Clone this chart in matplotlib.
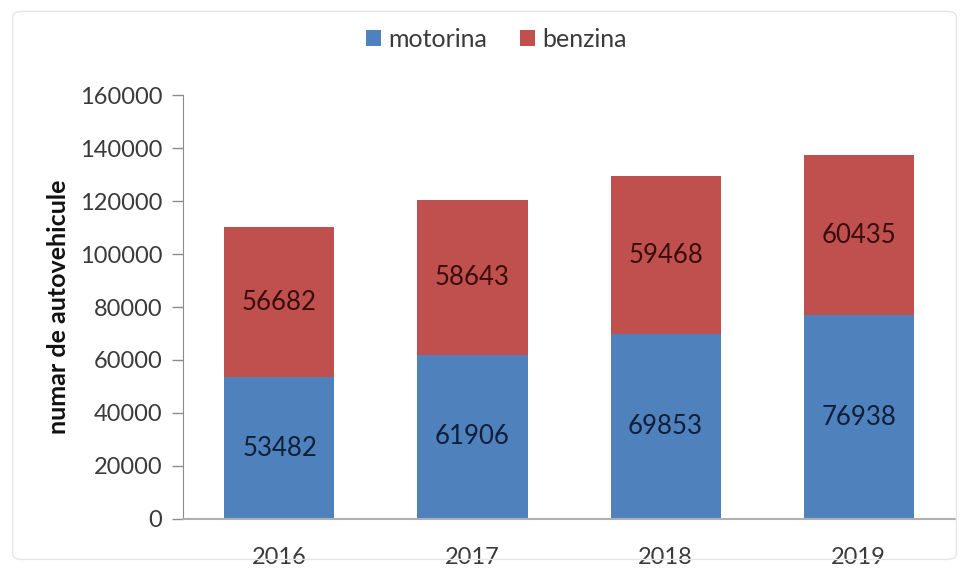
import numpy as np
import matplotlib.pyplot as plt
from matplotlib.patches import FancyBboxPatch

plt.rcParams['font.family'] = ['Lato', 'DejaVu Sans']

years = ['2016', '2017', '2018', '2019']
motorina = [53482, 61906, 69853, 76938]
benzina = [56682, 58643, 59468, 60435]

blue = '#4f81bd'
red = '#c0504d'
gray = '#8c8c8c'
txt = '#3a3a3a'

fig = plt.figure(figsize=(9.68, 5.68), dpi=100)
ax = fig.add_axes([0.189, 0.0863, 0.7977, 0.7464])

# faint chart frame
fig.patches.append(FancyBboxPatch((0.013, 0.015), 0.975, 0.965,
                                  boxstyle='round,pad=0,rounding_size=0.01',
                                  transform=fig.transFigure, fill=False,
                                  edgecolor='#e6e6e6', linewidth=1))

x = np.arange(len(years))
w = 0.57
b1 = ax.bar(x, motorina, w, color=blue, label='motorina')
b2 = ax.bar(x, benzina, w, bottom=motorina, color=red, label='benzina')

for i in range(len(years)):
    ax.text(x[i], motorina[i] / 2, str(motorina[i]), ha='center', va='center',
            fontsize=18.5, color='#0f1f3a')
    ax.text(x[i], motorina[i] + benzina[i] / 2, str(benzina[i]), ha='center',
            va='center', fontsize=18.5, color='#3a0d0d')

ax.set_xlim(-0.5, len(years) - 0.5)
ax.set_ylim(0, 160000)
ax.set_yticks(np.arange(0, 160001, 20000))
ax.set_xticks(x)
ax.set_xticklabels(years)
ax.tick_params(axis='x', length=0, pad=20, labelsize=17, colors=txt)
ax.tick_params(axis='y', length=8, width=1, color=gray, pad=7,
               labelsize=17, labelcolor=txt)

for s in ['top', 'right']:
    ax.spines[s].set_visible(False)
ax.spines['left'].set_color(gray)
ax.spines['bottom'].set_color('#b0b0b0')
ax.spines['bottom'].set_linewidth(1.5)

ax.set_ylabel('numar de autovehicule', fontsize=18, fontweight='bold',
              color='#111111', labelpad=7)

fig.legend(handles=[b1, b2], loc='center', bbox_to_anchor=(0.513, 0.931), ncol=2,
           frameon=False, fontsize=18, handlelength=0.6, handleheight=0.6,
           handletextpad=0.3, columnspacing=1.3, labelcolor=txt)

fig.savefig('out.png', dpi=100)
